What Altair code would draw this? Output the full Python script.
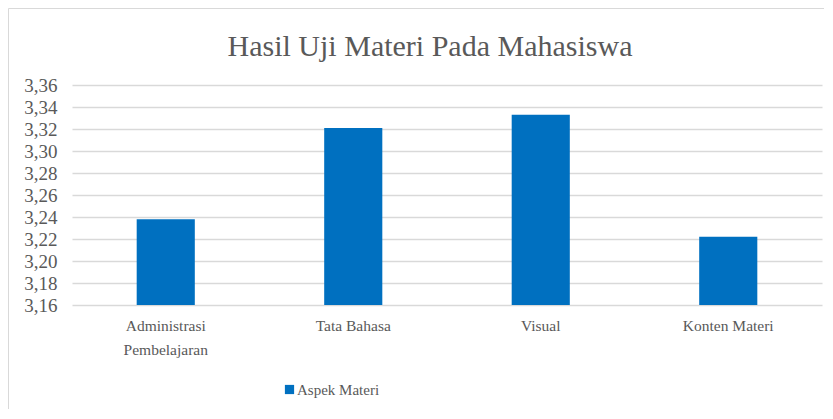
import altair as alt
import pandas as pd

categories = ["Administrasi Pembelajaran", "Tata Bahasa", "Visual", "Konten Materi"]
values = [3.238, 3.321, 3.333, 3.222]
series = ["Aspek Materi"] * 4
y_ticks = [3.16, 3.18, 3.20, 3.22, 3.24, 3.26, 3.28, 3.30, 3.32, 3.34, 3.36]
chart_title = "Hasil Uji Materi Pada Mahasiswa"

df = pd.DataFrame({"kategori": categories, "nilai": values, "seri": series})

FONT = "Liberation Serif"
GREY = "#595959"

bars = alt.Chart(df).mark_bar(color="#0070C0").encode(
    x=alt.X(
        "kategori:N",
        sort=categories,
        title=None,
        scale=alt.Scale(paddingInner=0.69, paddingOuter=0.345),
        axis=alt.Axis(
            labelAngle=0,
            domain=False,
            ticks=False,
            labelPadding=13,
            labelFont=FONT,
            labelFontSize=15.5,
            labelColor=GREY,
            labelLineHeight=24,
            labelExpr="length(datum.label) > 15 ? split(datum.label, ' ') : datum.label",
        ),
    ),
    y=alt.Y(
        "nilai:Q",
        title=None,
        scale=alt.Scale(domain=[3.16, 3.36], zero=False, nice=False, clamp=True),
        axis=alt.Axis(
            values=y_ticks,
            domain=False,
            ticks=False,
            labelPadding=15,
            labelFont=FONT,
            labelFontSize=19,
            labelColor=GREY,
            gridColor="#D9D9D9",
            gridWidth=1.3,
            labelExpr="replace(format(datum.value, '.2f'), '.', ',')",
        ),
    ),
    color=alt.Color(
        "seri:N",
        scale=alt.Scale(range=["#0070C0"]),
        legend=alt.Legend(
            title=None,
            orient="none",
            legendX=210,
            legendY=297,
            symbolType="square",
            symbolSize=85,
            symbolStrokeWidth=0,
            labelFont=FONT,
            labelFontSize=15,
            labelColor=GREY,
            labelOffset=0,
        ),
    ),
)

left_line = alt.Chart(alt.Data(values=[{}])).mark_rule(
    stroke="#D9D9D9", strokeWidth=1
).encode(
    x=alt.value(-63.5),
    y=alt.value(-76.5),
    y2=alt.value(324),
)

top_line = alt.Chart(alt.Data(values=[{}])).mark_rule(
    stroke="#D9D9D9", strokeWidth=1
).encode(
    x=alt.value(-63.5),
    x2=alt.value(752),
    y=alt.value(-76.5),
)

title_text = alt.Chart(alt.Data(values=[{}])).mark_text(
    font=FONT, fontSize=30, color=GREY, align="center", baseline="alphabetic"
).encode(
    x=alt.value(358),
    y=alt.value(-29),
    text=alt.value(chart_title),
)

chart = alt.layer(left_line, top_line, title_text, bars).properties(
    width=750,
    height=220,
    autosize=alt.AutoSizeParams(type="none"),
    padding={"left": 64, "top": 77, "right": 3, "bottom": 106},
).configure_view(stroke=None)

chart.save("out.html", embed_options={"renderer": "svg", "actions": False})
